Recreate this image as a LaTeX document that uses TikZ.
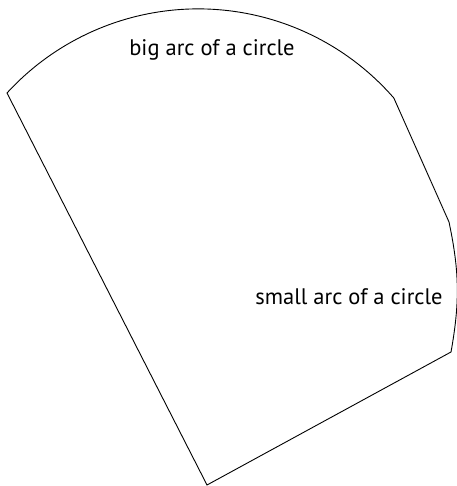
\documentclass[tikz,border=0pt]{standalone}
\usepackage{fontspec}
\setmainfont{PT Sans}
\usepackage{tikz}

\begin{document}
\begin{tikzpicture}[x=1pt, y=-1pt, outline/.style={draw, line width=0.9pt, line join=miter}, label/.style={font=\fontsize{22.5}{27}\selectfont, inner sep=0pt}]
\useasboundingbox (0,0) rectangle (456,486);
\coordinate (left) at (7,93);
\coordinate (bigend) at (394,98);
\coordinate (smallstart) at (449,222);
\coordinate (smallend) at (451,352);
\coordinate (bottom) at (207,485);
\draw[outline] (left) arc[start angle=-137.5, end angle=-41, radius=259.3] -- (smallstart) to[bend left=11] (smallend) -- (bottom) -- cycle;
\node[label] (bigtxt) at (212,50) {big arc of a circle};
\node[label] (smalltxt) at (349,297) {small arc of a circle};
\end{tikzpicture}
\end{document}
